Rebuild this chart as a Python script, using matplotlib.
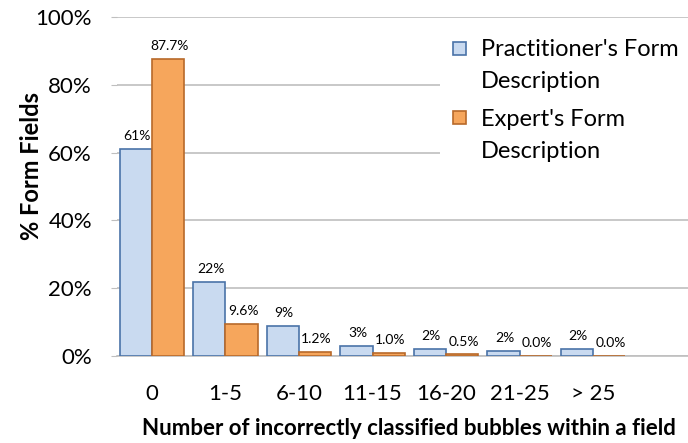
import matplotlib.pyplot as plt
from matplotlib.patches import Rectangle
import numpy as np

plt.rcParams['font.family'] = ['Lato', 'DejaVu Sans']

categories = ["0", "1-5", "6-10", "11-15", "16-20", "21-25", "> 25"]
practitioner = [61, 22, 9, 3, 2, 1.5, 2]
practitioner_labels = ["61%", "22%", "9%", "3%", "2%", "2%", "2%"]
expert = [87.7, 9.6, 1.2, 1.0, 0.5, 0.0, 0.0]
expert_labels = ["87.7%", "9.6%", "1.2%", "1.0%", "0.5%", "0.0%", "0.0%"]
series_names = ["Practitioner's Form\nDescription", "Expert's Form\nDescription"]
yticks = [0, 20, 40, 60, 80, 100]

W, H = 688, 443
fig = plt.figure(figsize=(W / 100, H / 100), dpi=100)
ax = fig.add_axes([0.170, 0.196, 0.830, 0.766])

x = np.arange(len(categories))
w = 0.44
styles = [("#c9daf0", "#4a73a8"), ("#f6a65c", "#b8692a")]
b1 = ax.bar(x - w / 2, practitioner, w, color=styles[0][0], edgecolor=styles[0][1],
            linewidth=1.2, zorder=3)
b2 = ax.bar(x + w / 2, expert, w, color=styles[1][0], edgecolor=styles[1][1],
            linewidth=1.2, zorder=3)

# data labels
for bars, labels in ((b1, practitioner_labels), (b2, expert_labels)):
    for rect, lab in zip(bars, labels):
        ax.annotate(lab, (rect.get_x() + rect.get_width() / 2, rect.get_height()),
                    xytext=(1, 5), textcoords="offset points",
                    ha="center", va="bottom", fontsize=10)

ax.set_ylim(0, 100)
ax.set_xlim(-0.476, 7.29)
ax.set_yticks(yticks)
ax.set_yticklabels([f"{v}%" for v in yticks], fontsize=16)
ax.set_xticks(x)
ax.set_xticklabels(categories, fontsize=16)
ax.tick_params(axis="x", length=0, pad=20)
ax.tick_params(axis="y", length=4, color="#bfbfbf", pad=14)

ax.yaxis.grid(True, color="#bfbfbf", linewidth=1.2, zorder=0)
ax.set_axisbelow(True)
for s in ("left", "right", "top"):
    ax.spines[s].set_visible(False)
ax.spines["bottom"].set_color("#bfbfbf")
ax.spines["bottom"].set_linewidth(1.2)

ax.set_ylabel("% Form Fields", fontsize=17, fontweight="bold")
ax.yaxis.set_label_coords(-0.13, 0.56)
ax.set_xlabel("Number of incorrectly classified bubbles within a field",
              fontsize=16, fontweight="bold", va="center")
ax.xaxis.set_label_coords(0.511, -0.212)

# legend drawn by hand (Excel-style wide line spacing)
fig.add_artist(Rectangle((440 / W, 1 - 165 / H), 248 / W, 140 / H,
                         transform=fig.transFigure, facecolor="white",
                         edgecolor="none", zorder=5))
line_y = [[48, 80], [117, 149]]
for name, (fc, ec), ys in zip(series_names, styles, line_y):
    fig.add_artist(Rectangle((453 / W, 1 - (ys[0] + 7) / H), 13 / W, 13 / H,
                             transform=fig.transFigure, facecolor=fc,
                             edgecolor=ec, linewidth=1.2, zorder=6))
    for line, py in zip(name.split("\n"), ys):
        fig.text(481 / W, 1 - py / H, line, fontsize=17, va="center_baseline",
                 ha="left", zorder=7)

fig.savefig("out.png", dpi=100)
